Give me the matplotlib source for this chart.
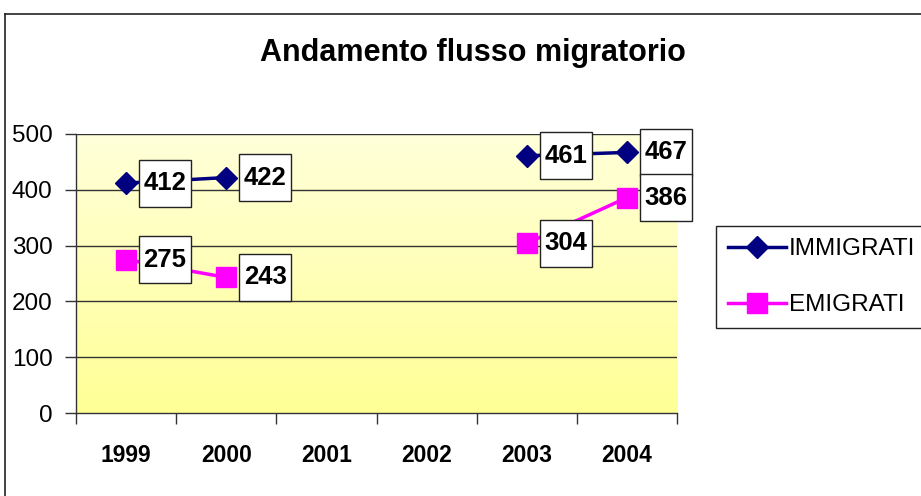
import numpy as np
import matplotlib
matplotlib.use("Agg")
import matplotlib.pyplot as plt
from matplotlib.patches import Rectangle
from matplotlib.transforms import Affine2D, ScaledTranslation
from matplotlib.lines import Line2D

plt.rcParams['font.family'] = ['Liberation Sans', 'DejaVu Sans']

years = ['1999', '2000', '2001', '2002', '2003', '2004']
immigrati = [412, 422, np.nan, np.nan, 461, 467]
emigrati = [275, 243, np.nan, np.nan, 304, 386]
title = 'Andamento flusso migratorio'
yticks = [0, 100, 200, 300, 400, 500]

W, H = 921, 496
fig = plt.figure(figsize=(W / 100, H / 100), dpi=100)

# outer chart border (left and top visible)
fig.add_artist(Line2D([5 / W, 5 / W], [0, 1 - 14 / H], transform=fig.transFigure,
                      color='#222222', lw=1.2))
fig.add_artist(Line2D([5 / W, 1], [1 - 14 / H, 1 - 14 / H], transform=fig.transFigure,
                      color='#222222', lw=1.2))

ax = fig.add_axes([76 / W, 83 / H, 601 / W, 279 / H])

# gradient background
top = np.array([255, 255, 218]) / 255
bot = np.array([255, 255, 150]) / 255
t = np.linspace(0, 1, 256)[:, None]
grad = (top[None, :] * (1 - t) + bot[None, :] * t)[:, None, :]
ax.imshow(grad, extent=[0, 1, 0, 1], transform=ax.transAxes, aspect='auto',
          zorder=0, interpolation='bilinear')

x = np.arange(len(years))
ax.plot(x, immigrati, color='#000080', lw=2.5, marker='D', ms=11.5,
        label='IMMIGRATI', zorder=3)
ax.plot(x, emigrati, color='#FF00FF', lw=2.5, marker='s', ms=14,
        label='EMIGRATI', zorder=3)

ax.set_xlim(-0.5, len(years) - 0.5)
ax.set_ylim(0, 500)

ax.set_yticks(yticks)
ax.set_yticklabels([str(v) for v in yticks], fontsize=17.5)
ax.tick_params(axis='y', direction='out', length=8, width=1, pad=9, color='#333333')

ax.set_xticks(x)
ax.set_xticklabels(years, fontsize=16.5, fontweight='bold')
ax.set_xticks(np.arange(len(years) + 1) - 0.5, minor=True)
ax.tick_params(axis='x', which='major', length=0, pad=22)
ax.tick_params(axis='x', which='minor', direction='out', length=8, width=1, color='#333333')

for v in yticks[1:]:
    ax.axhline(v, color='#333333', lw=1, zorder=1)

for s in ['top', 'right']:
    ax.spines[s].set_visible(False)
for s in ['left', 'bottom']:
    ax.spines[s].set_color('#333333')
    ax.spines[s].set_linewidth(1)

# data labels in boxes
bw, bh = 52, 47
for series in (immigrati, emigrati):
    for xi, v in zip(x, series):
        if np.isnan(v):
            continue
        tr = Affine2D().translate(13, -bh / 2) + ScaledTranslation(xi, v, ax.transData)
        r = Rectangle((0, 0), bw, bh, transform=tr, facecolor='white',
                      edgecolor='#222222', lw=1, zorder=5, clip_on=False)
        ax.add_patch(r)
        ttr = Affine2D().translate(13 + bw / 2, 0) + ScaledTranslation(xi, v, ax.transData)
        ax.text(0, 0, str(int(v)), transform=ttr, ha='center', va='center',
                fontsize=18.5, fontweight='bold', zorder=6)

fig.text(473 / W, 1 - 53 / H, title, ha='center', va='center',
         fontsize=22, fontweight='bold')

leg = fig.legend(loc='upper left', bbox_to_anchor=(716 / W, 1 - 226 / H),
                 fontsize=17.5, frameon=True, fancybox=False, framealpha=1,
                 edgecolor='#222222', borderpad=0.5, labelspacing=1.4,
                 handlelength=2.4, handletextpad=0.1, borderaxespad=0)
leg.get_frame().set_linewidth(1)

fig.savefig('out.png', dpi=100)
